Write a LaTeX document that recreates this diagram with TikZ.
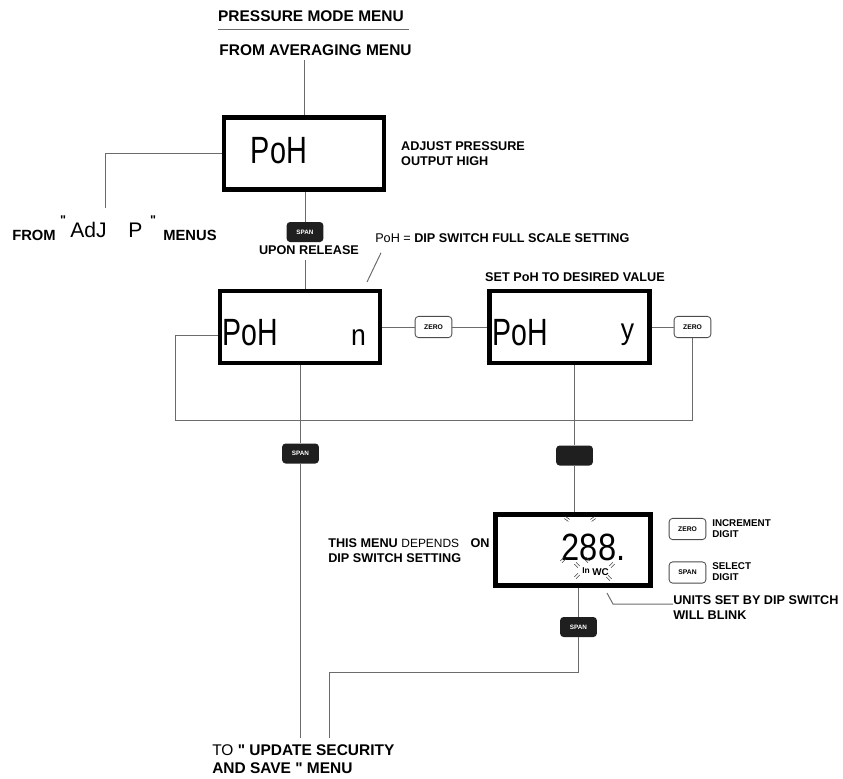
\documentclass[tikz,border=0pt]{standalone}
\usepackage{fontspec}
\setmainfont{Liberation Sans}
\usepackage{graphicx}
\usepackage{tikz}
\usetikzlibrary{positioning}
\definecolor{wiregray}{gray}{0.42}
\newcommand{\lcdscale}[2][0.76]{\scalebox{#1}[1]{#2}}
\tikzset{
  lcdbox/.style={
    draw,
    rectangle,
    line width=3.5pt,
    inner sep=0pt,
    minimum width=4cm,
    minimum height=1.8cm,
  },
  lcdtext/.style={
    font=\fontsize{27}{30}\selectfont,
    inner sep=0pt,
    anchor=base,
  },
  lcdsmall/.style={
    font=\fontsize{21}{24}\selectfont,
    inner sep=0pt,
    anchor=base,
  },
  spanbtn/.style={
    fill=black!88,
    rounded corners=2.5pt,
    minimum width=0.92cm,
    minimum height=0.5cm,
    inner sep=0pt,
    text=white,
    font=\bfseries\fontsize{4.5}{5}\selectfont,
  },
  zerobtn/.style={
    draw=black!70,
    fill=white,
    line width=0.6pt,
    rounded corners=2.5pt,
    minimum width=0.92cm,
    minimum height=0.53cm,
    inner sep=0pt,
    font=\bfseries\fontsize{4.8}{5}\selectfont,
  },
  wire/.style={draw=wiregray, line width=0.7pt},
  blink/.style={draw=black!75, line width=0.4pt},
  lbl/.style={font=\bfseries\fontsize{9}{10.7}\selectfont, inner sep=0pt, align=left},
  midlbl/.style={font=\bfseries\fontsize{10.5}{12}\selectfont, inner sep=0pt},
  biglbl/.style={font=\bfseries\fontsize{11}{13}\selectfont, inner sep=0pt, align=left},
  tinylbl/.style={font=\bfseries\fontsize{7}{7.8}\selectfont, inner sep=0pt, align=left},
}
\begin{document}
\begin{tikzpicture}[x=0.025cm, y=-0.025cm]
  \useasboundingbox (0,0) rectangle (843,778);
  \node[biglbl] (title) at (311,16) {PRESSURE MODE MENU};
  \draw[wire] ([yshift=-0.19cm]title.south west) -- ([xshift=0.12cm,yshift=-0.19cm]title.south east);
  \node[biglbl] (avg) at (315.5,50) {FROM AVERAGING MENU};

  \node[lcdbox] (box1) at (304,153.5) {};
  \node[lcdtext] (poh1) at (279,163) {\lcdscale{PoH}};
  \node[lbl, anchor=west, right=0.36cm of box1] (adjust) {ADJUST PRESSURE\\OUTPUT HIGH};
  \draw[wire] ([yshift=-0.11cm]avg.south -| box1.north) -- (box1.north);

  \node[midlbl, anchor=base west] (fromtxt) at (12,240) {FROM};
  \node[inner sep=0pt, font=\bfseries\fontsize{9}{9}\selectfont] (q1) at (63,220) {\textquotedbl};
  \node[inner sep=0pt, anchor=base west, font=\fontsize{15}{16}\selectfont] (adj) at (70,237) {AdJ};
  \node[inner sep=0pt, anchor=base west, font=\fontsize{15}{16}\selectfont] (pchar) at (128,237) {P};
  \node[inner sep=0pt, font=\bfseries\fontsize{9}{9}\selectfont] (q2) at (153,220) {\textquotedbl};
  \node[midlbl, anchor=base west] (menus) at (163,240) {MENUS};
  \coordinate (adjend) at (105,208);
  \draw[wire] (box1.west) -| (adjend);

  \node[spanbtn] (span1) at (305,232) {SPAN};
  \draw[wire] (box1.south -| span1.north) -- (span1.north);
  \node[lbl] (upon) at (309,250) {UPON RELEASE};
  \node[lbl, anchor=west] (fullscale) at (375,238) {{\mdseries PoH =} DIP SWITCH FULL SCALE SETTING};
  \coordinate (slashend) at (367,282);
  \draw[wire] ([xshift=0.15cm,yshift=-0.25cm]fullscale.south west) -- (slashend);

  \node[lcdbox] (box2) at (300,327) {};
  \node[lcdtext] (poh2) at (250.5,345) {\lcdscale[0.75]{PoH}};
  \node[lcdsmall] (nchar) at (358.5,345) {\lcdscale[0.9]{n}};
  \draw[wire] ([yshift=-0.12cm]upon.south -| span1.south) -- (box2.north -| span1.south);
  \node[zerobtn] (zero1) at (433.5,327) {ZERO};
  \node[lcdbox] (box3) at (569.5,327) {};
  \node[lcdtext] (poh3) at (520.5,345) {\lcdscale[0.75]{PoH}};
  \node[lcdsmall] (ychar) at (627.5,339) {\lcdscale[0.9]{y}};
  \node[lbl] (setpoh) at (575,277) {SET PoH TO DESIRED VALUE};
  \node[zerobtn] (zero2) at (692.5,327) {ZERO};
  \draw[wire] (box2) -- (zero1);
  \draw[wire] (zero1) -- (box3);
  \draw[wire] (box3) -- (zero2);
  \coordinate (loopl) at (175,420);
  \draw[wire] ([yshift=-0.2cm]box2.west) -| (loopl) -| (zero2.south);

  \node[spanbtn] (span2) at (300.5,453.5) {SPAN};
  \draw[wire] (box2.south -| span2.north) -- (span2.north);
  \coordinate (endl) at (300.5,738);
  \draw[wire] (span2.south) -- (endl);

  \node[spanbtn] (blankbtn) at (574.5,455.5) {};
  \draw[wire] (box3.south -| blankbtn.north) -- (blankbtn.north);
  \node[lcdbox, minimum width=3.875cm, minimum height=1.775cm] (box4) at (573,550) {};
  \draw[wire] (blankbtn.south) -- (blankbtn.south |- box4.north);
  \node[lcdtext] (digits) at (593.5,560) {\lcdscale[0.86]{288.}};
  \node[inner sep=0pt, font=\bfseries\fontsize{6}{6}\selectfont] (intxt) at (586,571) {In};
  \node[inner sep=0pt, font=\bfseries\fontsize{7}{7}\selectfont] (wctxt) at (600.5,572) {WC};
  \foreach \bx/\by/\ba in {567/519/-35, 593/519/35, 563/560/45, 587/560/-45,
                           577/565/-45, 612/565/45, 577/576/45, 609/578/-45} {
    \draw[blink, shift={(\bx,\by)}, rotate=\ba] (-2.5,-1.2) -- (2.5,-1.2) (-2.5,1.2) -- (2.5,1.2);
  }
  \node[lbl, anchor=west] (depends) at (328,550.5)
    {THIS MENU {\mdseries\fontsize{8.5}{10.7}\selectfont DEPENDS}\hspace{0.9em}ON\\DIP SWITCH SETTING};
  \node[zerobtn] (zero3) at (687.5,529) {ZERO};
  \node[tinylbl, anchor=west] (incr) at (712,528.5) {INCREMENT\\DIGIT};
  \node[zerobtn] (span4) at (687.5,572.5) {SPAN};
  \node[tinylbl, anchor=west] (select) at (712,572) {SELECT\\DIGIT};
  \node[lbl, anchor=west] (units) at (673,607.5) {UNITS SET BY DIP SWITCH\\WILL BLINK};
  \coordinate (unitsstart) at (607,593);
  \coordinate (unitsbend) at (613,604);
  \draw[wire] (unitsstart) -- (unitsbend) -- (unitsbend -| units.west);

  \node[spanbtn] (span3) at (578.5,627) {SPAN};
  \draw[wire] (box4.south -| span3.north) -- (span3.north);
  \coordinate (joinr) at (329,672);
  \coordinate (endr) at (329,738);
  \draw[wire] (span3.south) |- (joinr) -- (endr);
  \node[biglbl, anchor=west] (tosave) at (212,759) {{\mdseries TO} \textquotedbl{} UPDATE SECURITY\\AND SAVE \textquotedbl{} MENU};
\end{tikzpicture}
\end{document}
